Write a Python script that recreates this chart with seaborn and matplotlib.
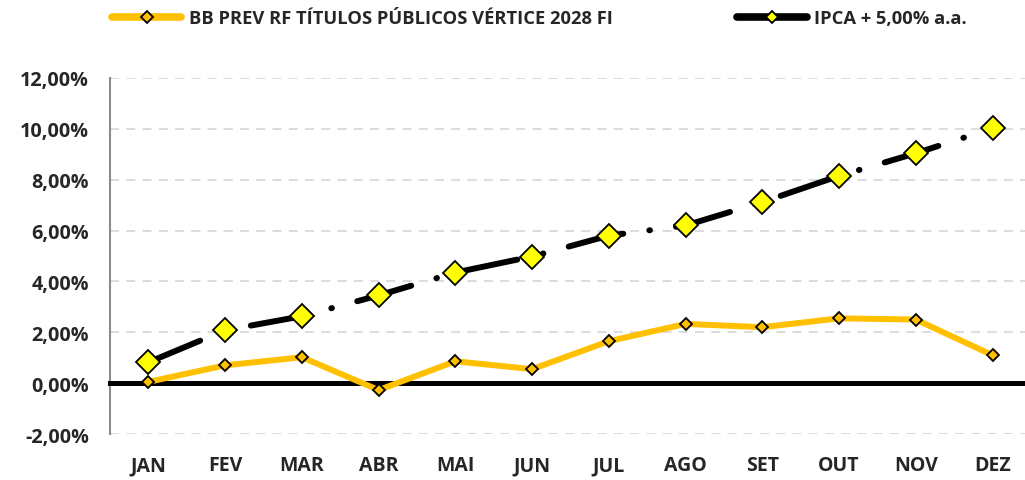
import pandas as pd
import seaborn as sns
import matplotlib.pyplot as plt
from matplotlib.ticker import FuncFormatter

# values (% per month, accumulated)
meses = ['JAN', 'FEV', 'MAR', 'ABR', 'MAI', 'JUN', 'JUL', 'AGO', 'SET', 'OUT', 'NOV', 'DEZ']
bb_prev = [0.05, 0.70, 1.02, -0.27, 0.86, 0.55, 1.65, 2.33, 2.20, 2.55, 2.50, 1.10]
ipca_5 = [0.82, 2.08, 2.63, 3.45, 4.35, 4.98, 5.80, 6.20, 7.12, 8.15, 9.04, 10.02]
y_ticks = [-2, 0, 2, 4, 6, 8, 10, 12]

nome_bb = 'BB PREV RF TÍTULOS PÚBLICOS VÉRTICE 2028 FI'
nome_ipca = 'IPCA + 5,00% a.a.'

df = pd.DataFrame({'mes': meses, 'bb': bb_prev, 'ipca': ipca_5})

sns.set_style('white')
plt.rcParams['font.family'] = ['Open Sans', 'DejaVu Sans']
plt.rcParams['font.weight'] = 'bold'

fig = plt.figure(figsize=(10.25, 4.81), dpi=100)
ax = fig.add_axes([0.1073, 0.0956, 0.8985, 0.7402])

sns.lineplot(data=df, x='mes', y='ipca', ax=ax, color='black', lw=4.3,
             linestyle=(0, (9.4, 4.4, 0.1, 4.4)), dash_capstyle='round',
             marker='D', markersize=12, markerfacecolor='#FFFF00',
             markeredgecolor='black', markeredgewidth=1.3, label=nome_ipca, zorder=4)
sns.lineplot(data=df, x='mes', y='bb', ax=ax, color='#FFC000', lw=4.3,
             solid_joinstyle='round', marker='D', markersize=6.5,
             markerfacecolor='#FFC000', markeredgecolor='black',
             markeredgewidth=1.3, label=nome_bb, zorder=3)

ax.set_xlim(-0.5, 11.5)
ax.set_ylim(-2, 12)
ax.set_yticks(y_ticks)
ax.yaxis.set_major_formatter(FuncFormatter(lambda v, p: f'{v:.2f}%'.replace('.', ',')))
ax.grid(axis='y', color='#D9D9D9', linestyle=(0, (5, 4)), lw=1.3)
ax.set_axisbelow(True)

for s in ['top', 'right']:
    ax.spines[s].set_visible(False)
ax.spines['left'].set_color('#8C8C8C')
ax.spines['left'].set_linewidth(1.5)
ax.spines['bottom'].set_position(('data', 0))
ax.spines['bottom'].set_color('black')
ax.spines['bottom'].set_linewidth(3.6)
ax.spines['bottom'].set_zorder(2.5)

ax.set_xticks([i - 0.5 for i in range(12)], minor=True)
ax.tick_params(axis='x', which='minor', length=6, width=3, color='black', direction='out')
ax.tick_params(axis='x', which='major', length=0, pad=52, labelsize=14)
ax.tick_params(axis='y', length=5, width=1.5, color='#8C8C8C', labelsize=14.2, pad=10)
for t in ax.get_xticklabels() + ax.get_yticklabels():
    t.set_fontweight('bold')

ax.set_xlabel('')
ax.set_ylabel('')
ax.get_legend().remove()

h, l = ax.get_legend_handles_labels()
leg = fig.legend(h[::-1], l[::-1], loc='center left', bbox_to_anchor=(0.109, 0.96), ncol=2,
                 frameon=False, handlelength=3.8, columnspacing=6.8, handletextpad=0.4,
                 borderpad=0, borderaxespad=0, prop={'weight': 'bold', 'size': 13.2})
for lh in leg.legend_handles:
    lh.set_markersize(6)
    lh.set_linewidth(5.5)
    lh.set_linestyle('-')
    lh.set_solid_capstyle('round')

plt.savefig('out.png', dpi=100)
